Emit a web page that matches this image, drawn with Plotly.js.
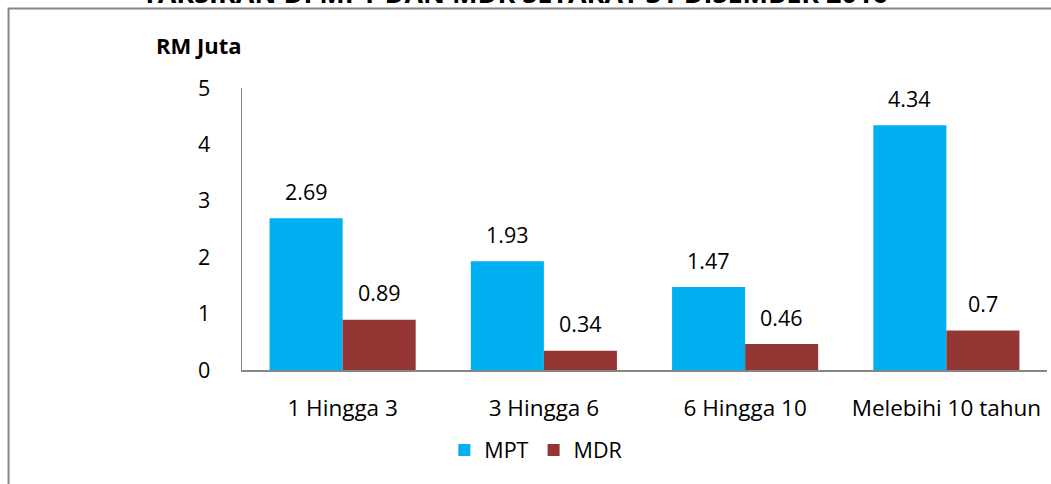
<!DOCTYPE html>
<html>
<head>
<meta charset="utf-8">
<script src="https://cdn.plot.ly/plotly-3.0.1.min.js"></script>
<style>html,body{margin:0;padding:0;background:#fff;}#chart{width:1051px;height:484px;}</style>
</head>
<body>
<div id="chart"></div>
<script>
var categories = ["1 Hingga 3", "3 Hingga 6", "6 Hingga 10", "Melebihi 10 tahun"];
var mptValues = [2.69, 1.93, 1.47, 4.34];
var mdrValues = [0.89, 0.34, 0.46, 0.7];
var mptLabels = ["2.69", "1.93", "1.47", "4.34"];
var mdrLabels = ["0.89", "0.34", "0.46", "0.7"];
var yTicks = [0, 1, 2, 3, 4, 5];

var FONT = "'Open Sans', Lato, sans-serif";

var traces = [
  {type: "bar", name: "MPT", x: categories, y: mptValues, marker: {color: "#00B0F0"}, hoverinfo: "none"},
  {type: "bar", name: "MDR", x: categories, y: mdrValues, marker: {color: "#943634"}, hoverinfo: "none"}
];

var annotations = [];
categories.forEach(function (c, i) {
  annotations.push({x: c, y: mptValues[i], xref: "x", yref: "y", text: mptLabels[i], showarrow: false,
    xshift: -36.5, yshift: 27, yanchor: "middle", font: {family: FONT, size: 21.5, color: "#000"}});
  annotations.push({x: c, y: mdrValues[i], xref: "x", yref: "y", text: mdrLabels[i], showarrow: false,
    xshift: 36.5, yshift: 27, yanchor: "middle", font: {family: FONT, size: 21.5, color: "#000"}});
});
annotations.push({x: -0.0534, y: 1.152, xref: "paper", yref: "paper", text: "<b>RM Juta</b>", showarrow: false,
  xanchor: "center", yanchor: "middle", font: {family: FONT, size: 22, color: "#000"}});
annotations.push({x: 0.339, y: 1.34, xref: "paper", yref: "paper",
  text: "<b>TAKSIRAN DI MPT DAN MDR SETAKAT 31 DISEMBER 2016</b>", showarrow: false,
  xanchor: "center", yanchor: "middle", font: {family: FONT, size: 27, color: "#000"}});

var layout = {
  width: 1051, height: 484,
  margin: {l: 242, r: 4, t: 88, b: 114, pad: 0},
  paper_bgcolor: "#fff", plot_bgcolor: "#fff",
  barmode: "group", bargap: 0.274, bargroupgap: 0,
  showlegend: true,
  legend: {orientation: "h", x: 0.365, xanchor: "center", y: -0.284, yanchor: "middle",
    font: {family: FONT, size: 21.5, color: "#000"}, itemwidth: 30, tracegroupgap: 0},
  xaxis: {type: "category", showgrid: false, zeroline: false, showline: true, linecolor: "#868686", linewidth: 1.5,
    ticks: "", tickfont: {family: FONT, size: 22.5, color: "#000"}, ticklabelstandoff: 17, fixedrange: true},
  yaxis: {range: [0, 5], tickvals: yTicks, ticktext: yTicks.map(String), showgrid: false, zeroline: false,
    showline: true, linecolor: "#868686", linewidth: 1.5, ticks: "",
    tickfont: {family: FONT, size: 21.5, color: "#000"}, ticklabelstandoff: 26, fixedrange: true},
  annotations: annotations,
  shapes: [{type: "rect", xref: "paper", yref: "paper", x0: -0.29, x1: 1.2, y0: -0.6, y1: 1.282,
    line: {color: "#868686", width: 2}, fillcolor: "rgba(0,0,0,0)", layer: "below"}]
};

Plotly.newPlot("chart", traces, layout, {displayModeBar: false, staticPlot: true});
</script>
</body>
</html>
